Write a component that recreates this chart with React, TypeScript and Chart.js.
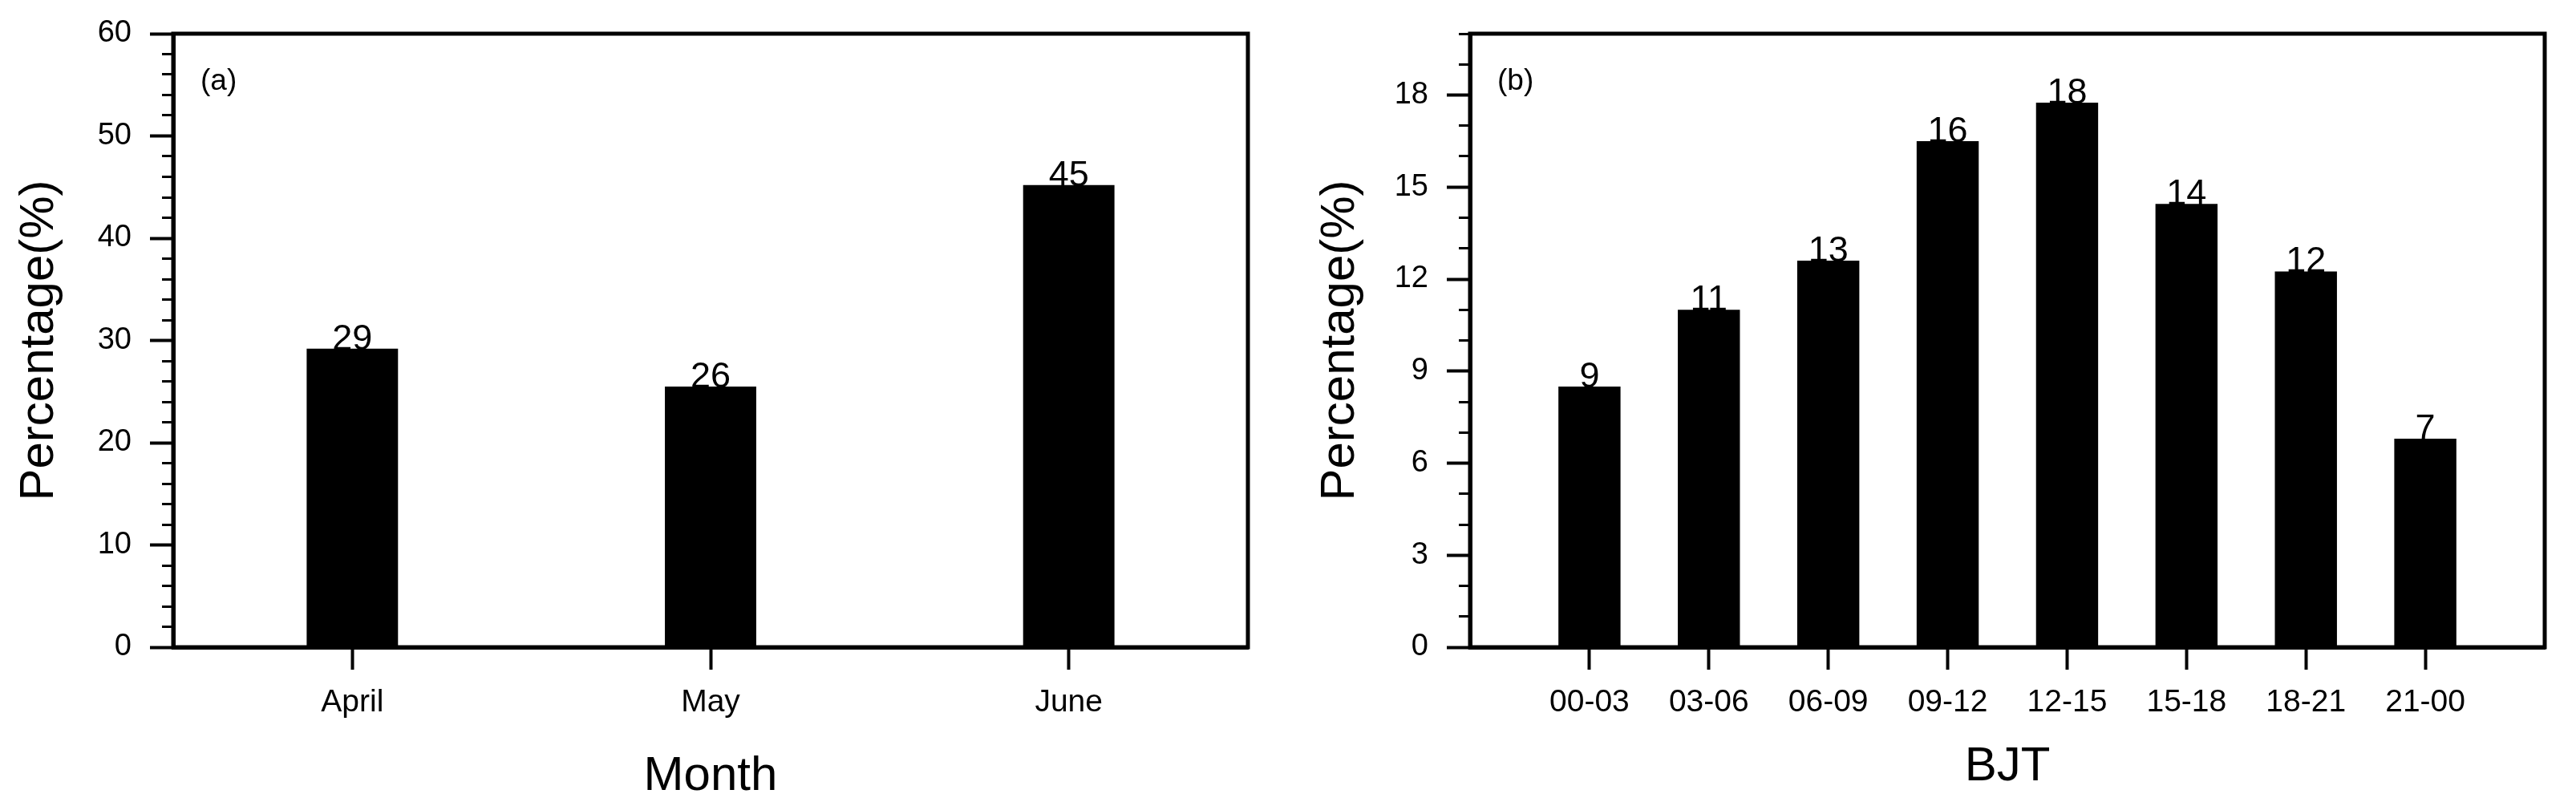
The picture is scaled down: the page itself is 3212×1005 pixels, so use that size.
import { useEffect, useRef } from "react";
import { Chart, registerables } from "chart.js";

Chart.register(...registerables);

const FONT = "'Liberation Sans', Arial, Helvetica, sans-serif";
Chart.defaults.font.family = FONT;
Chart.defaults.color = "#000";

// (a) monthly share
const months = ["April", "May", "June"];
const monthValues = [29.2, 25.5, 45.2];
const monthLabels = ["29", "26", "45"];
const monthMajorTicks = [0, 10, 20, 30, 40, 50, 60];
const monthMinorTicks = [
  0, 2, 4, 6, 8, 10, 12, 14, 16, 18, 20, 22, 24, 26, 28, 30, 32, 34, 36, 38, 40,
  42, 44, 46, 48, 50, 52, 54, 56, 58, 60,
];

// (b) 3-hourly share (BJT)
const periods = ["00-03", "03-06", "06-09", "09-12", "12-15", "15-18", "18-21", "21-00"];
const periodSlots = [1, 2, 3, 4, 5, 6, 7, 8];
const periodValues = [8.5, 11.0, 12.6, 16.5, 17.75, 14.45, 12.25, 6.8];
const periodLabels = ["9", "11", "13", "16", "18", "14", "12", "7"];
const periodMajorTicks = [0, 3, 6, 9, 12, 15, 18];
const periodMinorTicks = [0, 1, 2, 3, 4, 5, 6, 7, 8, 9, 10, 11, 12, 13, 14, 15, 16, 17, 18, 19, 20];

// frame, value labels and panel tag
const panelDecor = {
  id: "panelDecor",
  afterDatasetsDraw(chart: any, _args: any, opts: any) {
    const { ctx, chartArea } = chart;
    ctx.save();
    ctx.strokeStyle = "#000";
    ctx.lineWidth = 5;
    ctx.strokeRect(
      chartArea.left,
      chartArea.top,
      chartArea.right - chartArea.left,
      chartArea.bottom - chartArea.top
    );

    ctx.fillStyle = "#000";
    ctx.font = `45px ${FONT}`;
    ctx.textAlign = "center";
    ctx.textBaseline = "alphabetic";
    const meta = chart.getDatasetMeta(0);
    meta.data.forEach((bar: any, i: number) => {
      ctx.fillText(opts.labels[i], bar.x, bar.y + 1);
    });

    ctx.font = `37px ${FONT}`;
    ctx.textAlign = "left";
    ctx.fillText(opts.tag, chartArea.left + 34, chartArea.top + 70);
    ctx.restore();
  },
};

interface PanelProps {
  kind: "month" | "period";
  left: number;
}

function yAxes(max: number, major: number[], minor: number[], width: number, titlePad: number) {
  return {
    y: {
      type: "linear",
      position: "left",
      min: 0,
      max,
      weight: 1,
      afterBuildTicks: (s: any) => {
        s.ticks = major.map((v) => ({ value: v }));
      },
      afterFit: (s: any) => {
        s.width = width;
      },
      ticks: { font: { size: 38, lineHeight: 1 }, color: "#000", padding: 23 },
      grid: {
        drawOnChartArea: false,
        tickLength: 29,
        tickWidth: 4,
        tickColor: "#000",
      },
      border: { display: true, color: "#000", width: 5 },
      title: {
        display: true,
        text: "Percentage(%)",
        color: "#000",
        font: { size: 60, lineHeight: 1 },
        padding: { top: titlePad, bottom: 0 },
      },
    },
    yMinor: {
      type: "linear",
      position: "left",
      min: 0,
      max,
      weight: 0,
      afterBuildTicks: (s: any) => {
        s.ticks = minor.map((v) => ({ value: v }));
      },
      afterFit: (s: any) => {
        s.width = 0;
      },
      ticks: { display: false },
      grid: {
        drawOnChartArea: false,
        tickLength: 14,
        tickWidth: 3,
        tickColor: "#000",
      },
      border: { display: false },
    },
  };
}

const xCommon = {
  grid: {
    offset: false,
    drawOnChartArea: false,
    tickLength: 28,
    tickWidth: 4,
    tickColor: "#000",
  },
  border: { display: true, color: "#000", width: 5 },
  afterFit: (s: any) => {
    s.height = 198;
  },
};

function Panel({ kind, left }: PanelProps) {
  const canvasRef = useRef<HTMLCanvasElement>(null);
  const chartRef = useRef<Chart | null>(null);

  useEffect(() => {
    if (!canvasRef.current) return;
    const ctx = canvasRef.current.getContext("2d");
    if (!ctx) return;

    const isMonth = kind === "month";

    const xAxis = isMonth
      ? {
          ...xCommon,
          type: "category",
          offset: true,
          ticks: { font: { size: 39, lineHeight: 1 }, color: "#000", padding: 22, maxRotation: 0, autoSkip: false },
          title: {
            display: true,
            text: "Month",
            color: "#000",
            font: { size: 60, lineHeight: 1 },
            padding: { top: 0, bottom: 7 },
          },
        }
      : {
          ...xCommon,
          type: "linear",
          min: 0,
          max: 9,
          offset: false,
          afterBuildTicks: (s: any) => {
            s.ticks = periodSlots.map((v) => ({ value: v }));
          },
          ticks: {
            font: { size: 39, lineHeight: 1 },
            color: "#000",
            padding: 22,
            maxRotation: 0,
            autoSkip: false,
            callback: (v: any) => {
              const i = periodSlots.indexOf(Number(v));
              return i >= 0 ? periods[i] : "";
            },
          },
          title: {
            display: true,
            text: "BJT",
            color: "#000",
            font: { size: 60, lineHeight: 1 },
            padding: { top: 0, bottom: 19 },
          },
        };

    chartRef.current = new Chart(ctx, {
      type: "bar",
      data: isMonth
        ? {
            labels: months,
            datasets: [
              {
                data: monthValues,
                backgroundColor: "#000",
                borderWidth: 0,
                barPercentage: 0.255,
                categoryPercentage: 1,
              },
            ],
          }
        : {
            datasets: [
              {
                data: periodValues.map((v, i) => ({ x: periodSlots[i], y: v })),
                backgroundColor: "#000",
                borderWidth: 0,
                barPercentage: 0.52,
                categoryPercentage: 1,
              },
            ],
          },
      options: {
        animation: false,
        responsive: true,
        maintainAspectRatio: false,
        layout: {
          padding: isMonth
            ? { top: 39, right: 50, left: 0, bottom: 0 }
            : { top: 39, right: 39, left: 0, bottom: 0 },
        },
        plugins: {
          legend: { display: false },
          tooltip: { enabled: false },
          panelDecor: {
            labels: isMonth ? monthLabels : periodLabels,
            tag: isMonth ? "(a)" : "(b)",
          },
        } as any,
        scales: {
          x: xAxis,
          ...(isMonth
            ? yAxes(60, monthMajorTicks, monthMinorTicks, 216, 19.5)
            : yAxes(20, periodMajorTicks, periodMinorTicks, 227, 35.5)),
        } as any,
      },
      plugins: [panelDecor],
    });

    return () => {
      if (chartRef.current) {
        chartRef.current.destroy();
        chartRef.current = null;
      }
    };
  }, [kind]);

  return (
    <div style={{ position: "absolute", left, top: 0, width: 1606, height: 1005 }}>
      <canvas ref={canvasRef} />
    </div>
  );
}

export default function App() {
  return (
    <div
      style={{
        position: "absolute",
        left: 0,
        top: 0,
        width: 3212,
        height: 1005,
        background: "#fff",
      }}
    >
      <Panel kind="month" left={0} />
      <Panel kind="period" left={1606} />
    </div>
  );
}
